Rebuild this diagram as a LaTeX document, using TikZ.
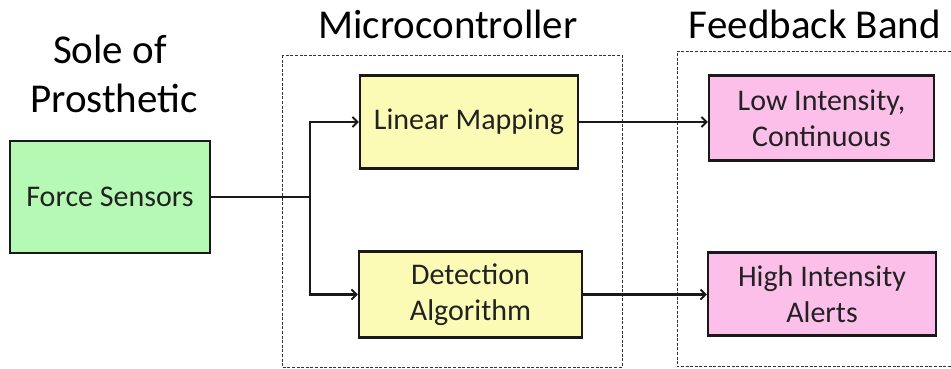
\documentclass[tikz,border=0pt]{standalone}
\usepackage{fontspec}
\setmainfont{Carlito}
\usetikzlibrary{arrows.meta}
\definecolor{fsgreen}{RGB}{181,249,181}
\definecolor{mcyellow}{RGB}{251,251,181}
\definecolor{fbpink}{RGB}{251,191,233}
\definecolor{txt}{RGB}{34,34,34}
\tikzset{
  blockbox/.style={draw=black!90, line width=2.2pt, align=center, inner sep=0pt,
    font=\fontsize{30}{36}\selectfont, text=txt},
  titletext/.style={align=center, inner sep=0pt, font=\fontsize{41}{49}\selectfont, text=black},
  dashbox/.style={draw=black!80, line width=1pt, dash pattern=on 3pt off 1.6pt},
  conn/.style={draw=black!90, line width=2.1pt},
  arr/.style={conn, -{Straight Barb[length=5pt,width=10pt,line width=2pt]}},
}
\begin{document}
\begin{tikzpicture}[x=1pt,y=-1pt]
\useasboundingbox (0,0) rectangle (951,368);
% titles
\node[titletext, anchor=base] (t1) at (110,63) {Sole of};
\node[titletext, anchor=base] (t2) at (114,112) {Prosthetic};
\node[titletext, anchor=base] (t3) at (448,38) {Microcontroller};
\node[titletext, anchor=base] (t4) at (815,38) {Feedback Band};
% dashed groups
\draw[dashbox] (282,55) rectangle (622,367);
\draw[dashbox] (951,51) -- (677,51) -- (677,366.5) -- (951,366.5);
% blocks
\node[blockbox, fill=fsgreen, minimum width=200pt, minimum height=112pt] (fs) at (110,197) {Force Sensors};
\node[blockbox, fill=mcyellow, minimum width=218pt, minimum height=93pt] (lm) at (469,122) {Linear Mapping};
\node[blockbox, fill=mcyellow, minimum width=223pt, minimum height=86pt] (da) at (470.5,294.5) {Detection\\Algorithm};
\node[blockbox, fill=fbpink, minimum width=225pt, minimum height=85pt] (lo) at (821.5,118) {Low Intensity,\\Continuous};
\node[blockbox, fill=fbpink, minimum width=228pt, minimum height=83pt] (hi) at (822,294) {High Intensity\\Alerts};
% connectors
\coordinate (j) at (310,197);
\draw[conn] (fs.east) -- (j);
\draw[arr] (j) |- (lm.west);
\draw[arr] (j) |- (da.west);
\draw[arr] (lm.east) -- (lm.east -| lo.west);
\draw[arr] (da.east) -- (da.east -| hi.west);
\end{tikzpicture}
\end{document}
